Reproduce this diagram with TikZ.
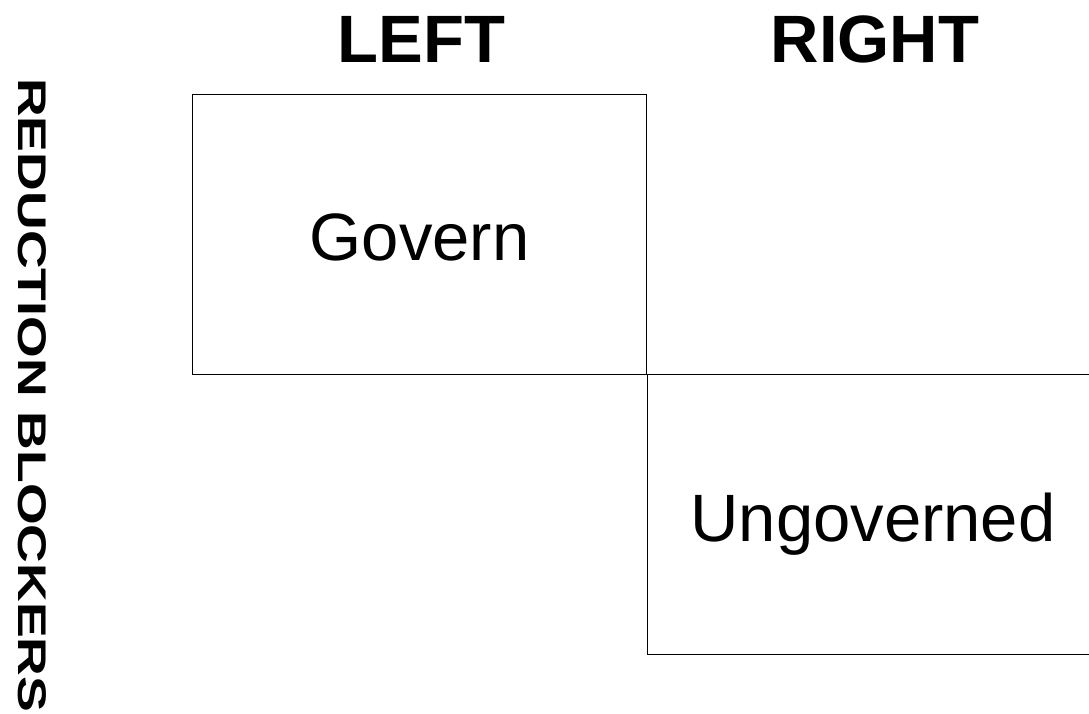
\documentclass[tikz,border=0pt]{standalone}
\usepackage{fontspec}
\setmainfont{Liberation Sans}
\begin{document}
\begin{tikzpicture}[x=1pt,y=-1pt,
  cell/.style={draw=black, line width=0.9pt, inner sep=0pt, anchor=north west,
               minimum width=454pt, minimum height=280pt},
  head/.style={font=\fontsize{67}{70}\selectfont\bfseries, anchor=base, inner sep=0pt},
  label/.style={font=\fontsize{67}{70}\selectfont, anchor=base, inner sep=0pt},
  side/.style={font=\fontsize{40}{44}\selectfont\bfseries, rotate=-90, anchor=base west, inner sep=0pt}]
\useasboundingbox (0,0) rectangle (1089,713);
\clip (0,0) rectangle (1089,713);
\node[cell] (box1) at (192,94) {};
\node[cell] (box2) at (647,374) {};
\node[head] (left) at (421.5,62) {LEFT};
\node[head] (right) at (875,62) {RIGHT};
\node[label] (govern) at (419.5,260) {Govern};
\node[label] (ungov) at (873,541) {Ungoverned};
\node[side] (blockers) at (18,78) {\scalebox{1.34}[1]{REDUCTION BLOCKERS}};
\end{tikzpicture}
\end{document}
